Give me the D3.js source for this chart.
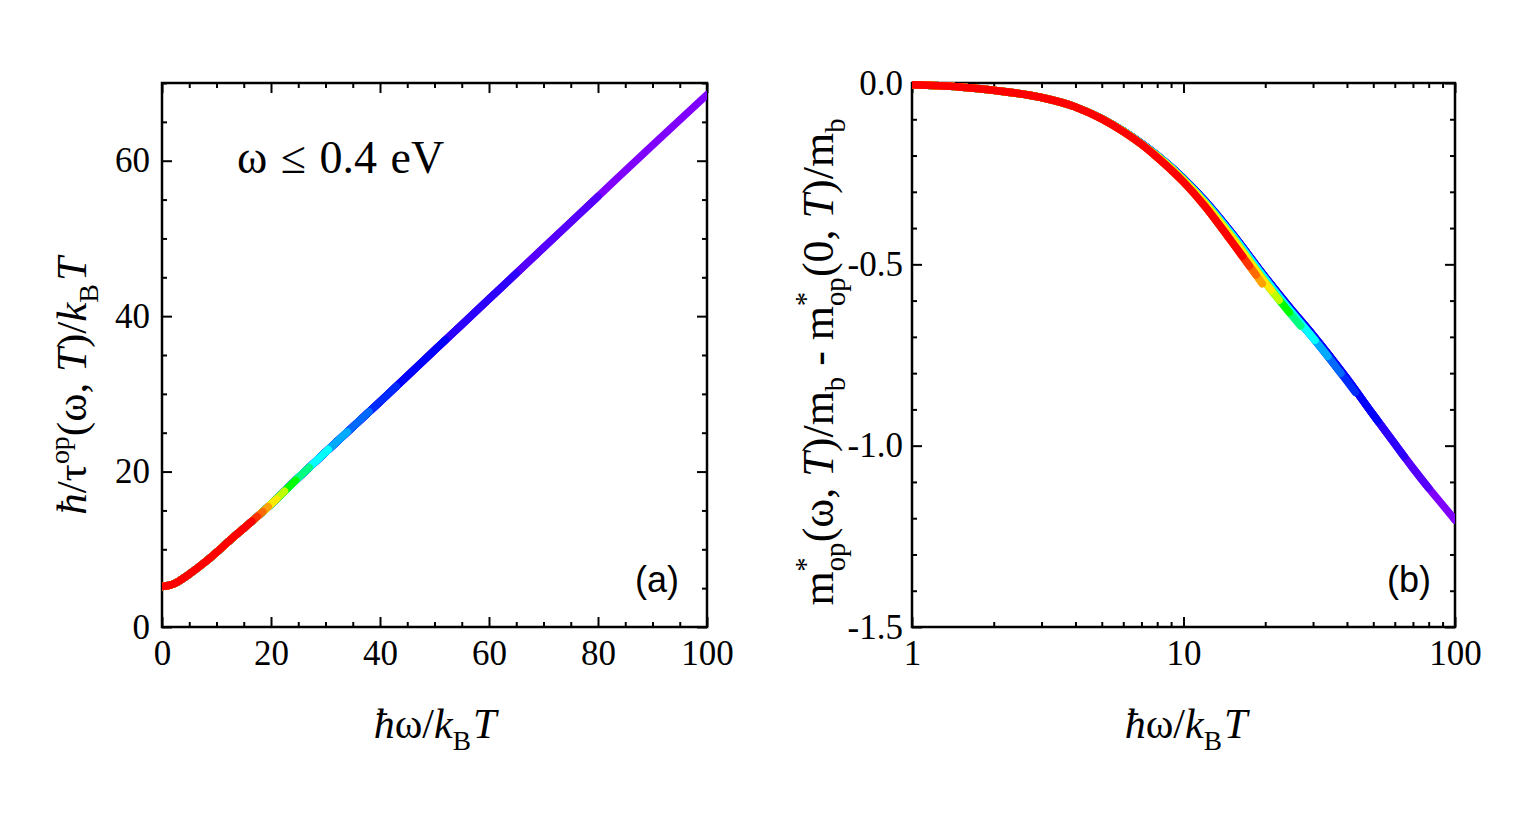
<!doctype html>
<html>
<head>
<meta charset="utf-8">
<title>scattering rate and effective mass</title>
<style>
	body{ margin: 0; background: #fff; }
	text{ font-family: "Liberation Serif", "Times New Roman", serif; fill: #000; }
	.tick text{ font-size: 35px; }
	.tick line{ stroke: #000; stroke-width: 2px; }
	.tag{ font-family: "Liberation Sans", Arial, sans-serif; font-size: 36px; }
</style>
</head>
<body>
<svg id="fig" width="1522" height="817"></svg>
<script src="https://cdn.jsdelivr.net/npm/d3@7"></script>
<script>
// one curve per temperature; each ends at omega = 0.4 eV, i.e. at its own x max
var seriesXmax = [100, 80, 65, 52, 43, 38, 34, 30.5, 27, 24.5, 22.5, 21, 19.5, 18.5, 17.5, 16.5];
var seriesHue  = [270, 260, 250, 240, 230, 215, 200, 180, 150, 120, 75, 55, 38, 25, 12, 0];
// which of the (b) curves below each temperature follows
var seriesGroup = ["cold","cold","cold","cold","blue","blue","blue","blue",
                   "green","green","green","green","hot","hot","hot","hot"];

// panel (a): hbar/tau / kT
var tauX = [0, 2, 5, 8, 10, 13, 16, 20, 25, 30, 40, 50, 60, 70, 80, 90, 100];
var tauY = [5.2, 5.5, 6.8, 8.4, 9.6, 11.5, 13.3, 15.8, 19.2, 22.5, 29.0, 35.6, 42.2, 48.8, 55.4, 62.0, 68.5];

// panel (b): mass difference, the colder curves sit a hair higher
var massX     = [1, 1.5, 2, 3, 4, 5, 6, 7, 8, 10, 12, 15, 20, 25, 30, 40, 50, 60, 70, 80, 90, 100];
var massCold  = [-0.005, -0.011, -0.02, -0.04, -0.066, -0.098, -0.132, -0.166, -0.199, -0.263, -0.325, -0.412,
                 -0.535, -0.625, -0.695, -0.815, -0.915, -0.995, -1.062, -1.117, -1.163, -1.205];
var massBlue  = [-0.005, -0.011, -0.02, -0.04, -0.066, -0.098, -0.132, -0.167, -0.2, -0.265, -0.328, -0.416,
                 -0.54, -0.632, -0.703, -0.822, -0.92];
var massGreen = [-0.005, -0.011, -0.02, -0.04, -0.066, -0.098, -0.133, -0.168, -0.202, -0.268, -0.332, -0.423,
                 -0.55, -0.64, -0.71];
var massHot   = [-0.005, -0.011, -0.02, -0.04, -0.066, -0.099, -0.134, -0.169, -0.205, -0.273, -0.34, -0.436,
                 -0.565];
var massByGroup = {cold: massCold, blue: massBlue, green: massGreen, hot: massHot};

var xTicksA = [0, 20, 40, 60, 80, 100];
var yTicksA = [0, 20, 40, 60];
var xTicksB = [1, 10, 100];
var yTicksB = [0, -0.5, -1.0, -1.5];

var svg = d3.select("#fig");

var boxA = {left: 162, right: 707, top: 83, bottom: 627};
var boxB = {left: 912, right: 1455, top: 83, bottom: 627};

var xa = d3.scaleLinear().domain([0, 100]).range([boxA.left, boxA.right]);
var ya = d3.scaleLinear().domain([0, 70]).range([boxA.bottom, boxA.top]);
var xb = d3.scaleLog().domain([1, 100]).range([boxB.left, boxB.right]);
var yb = d3.scaleLinear().domain([-1.5, 0]).range([boxB.bottom, boxB.top]);

function minorLinear(lo, hi, step, skip){
	var out = [];
	for(var v = lo; v <= hi + 1e-9; v += step){
		var r = Math.round(v * 1000) / 1000;
		if(Math.abs(r / skip - Math.round(r / skip)) > 1e-6) out.push(r);
	}
	return out;
}

function drawAxes(box, x, y, xMajor, xMinor, yMajor, yMinor, xFmt, yFmt, yPad){
	var g = svg.append("g");
	var bottom = g.append("g").attr("transform", "translate(0," + box.bottom + ")");
	bottom.call(d3.axisBottom(x).tickValues(xMajor).tickSize(-10).tickPadding(13).tickFormat(xFmt));
	bottom.append("g").call(d3.axisBottom(x).tickValues(xMinor).tickSize(-5).tickFormat(""));
	var top = g.append("g").attr("transform", "translate(0," + box.top + ")");
	top.call(d3.axisTop(x).tickValues(xMajor).tickSize(-10).tickFormat(""));
	top.append("g").call(d3.axisTop(x).tickValues(xMinor).tickSize(-5).tickFormat(""));
	var left = g.append("g").attr("transform", "translate(" + box.left + ",0)");
	left.call(d3.axisLeft(y).tickValues(yMajor).tickSize(-10).tickPadding(yPad).tickFormat(yFmt));
	left.append("g").call(d3.axisLeft(y).tickValues(yMinor).tickSize(-5).tickFormat(""));
	var right = g.append("g").attr("transform", "translate(" + box.right + ",0)");
	right.call(d3.axisRight(y).tickValues(yMajor).tickSize(-10).tickFormat(""));
	right.append("g").call(d3.axisRight(y).tickValues(yMinor).tickSize(-5).tickFormat(""));
	g.selectAll(".domain").remove();
	g.selectAll(".tick text").attr("fill", "#000");
	g.append("rect")
		.attr("x", box.left).attr("y", box.top)
		.attr("width", box.right - box.left).attr("height", box.bottom - box.top)
		.attr("fill", "none").attr("stroke", "#000").attr("stroke-width", 2.5);
}

drawAxes(boxA, xa, ya, xTicksA, minorLinear(0, 100, 5, 20), yTicksA, minorLinear(0, 70, 5, 20),
	d3.format("d"), d3.format("d"), 12);

var xMinorB = [2, 3, 4, 5, 6, 7, 8, 9, 20, 30, 40, 50, 60, 70, 80, 90];
drawAxes(boxB, xb, yb, xTicksB, xMinorB, yTicksB, minorLinear(-1.5, 0, 0.1, 0.5),
	d3.format("d"), function(d){ return d.toFixed(1); }, 9);

// clip the curves only left/right so they may run over the frame like the original
function addClip(id, box){
	svg.append("clipPath").attr("id", id).append("rect")
		.attr("x", box.left).attr("y", box.top - 40)
		.attr("width", box.right - box.left).attr("height", box.bottom - box.top + 80);
}
addClip("clipA", boxA);
addClip("clipB", boxB);

function drawSeries(clipId, x, y, dataFor){
	var g = svg.append("g").attr("clip-path", "url(#" + clipId + ")");
	var line = d3.line().x(function(d){ return x(d[0]); }).y(function(d){ return y(d[1]); })
		.curve(d3.curveMonotoneX);
	seriesXmax.forEach(function(xm, i){
		var path = g.append("path")
			.datum(dataFor(i))
			.attr("d", line)
			.attr("fill", "none")
			.attr("stroke", d3.hsl(seriesHue[i], 1, 0.5).formatHex())
			.attr("stroke-width", 7.5)
			.attr("stroke-linecap", "round")
			.attr("stroke-linejoin", "round");
		// stop the stroke where this temperature reaches 0.4 eV
		var node = path.node(), total = node.getTotalLength(), target = x(xm);
		if(node.getPointAtLength(total).x > target + 0.5){
			var lo = 0, hi = total;
			for(var k = 0; k < 40; k++){
				var mid = (lo + hi) / 2;
				if(node.getPointAtLength(mid).x < target) lo = mid; else hi = mid;
			}
			path.attr("stroke-dasharray", lo + "," + (total + 50));
		}
	});
}

drawSeries("clipA", xa, ya, function(){ return d3.zip(tauX, tauY); });
drawSeries("clipB", xb, yb, function(i){
	var m = massByGroup[seriesGroup[i]];
	return d3.zip(massX.slice(0, m.length), m);
});

// text with italics, sub- and superscripts
function rich(sel, parts, size){
	var shift = 0;
	parts.forEach(function(p){
		var t = sel.append("tspan").text(p[0]);
		var want = p[1] === "sub" ? size * 0.28 : (p[1] === "sup" ? -size * 0.4 : 0);
		if(want !== shift){ t.attr("dy", want - shift); shift = want; }
		if(p[1] === "i") t.style("font-style", "italic");
		if(p[1] === "sub" || p[1] === "sup") t.style("font-size", (size * 0.65) + "px");
		if(p[2]) t.attr("dx", p[2]);
	});
}

var labA = svg.append("text")
	.attr("transform", "translate(86,386) rotate(-90)")
	.attr("text-anchor", "middle").style("font-size", "43px");
rich(labA, [["ħ", "i"], ["/τ", ""], ["op", "sup"], ["(ω,  ", ""], ["T", "i"], [")/", ""], ["k", "i"],
	["B", "sub"], ["T", "i", 3]], 43);

var labB = svg.append("text")
	.attr("transform", "translate(833,362) rotate(-90)")
	.attr("text-anchor", "middle").style("font-size", "44px");
rich(labB, [["m", ""], ["op", "sub"], ["*", "sup", -29], ["(ω,  ", "", 15], ["T", "i"], [")/m", ""], ["b", "sub"],
	[" - m", ""], ["op", "sub"], ["*", "sup", -29], ["(0,  ", "", 15], ["T", "i"], [")/m", ""], ["b", "sub"]], 44);

[[xa, 435], [xb, 1186]].forEach(function(s){
	var t = svg.append("text").attr("x", s[1]).attr("y", 738)
		.attr("text-anchor", "middle").style("font-size", "42px");
	rich(t, [["ħ", "i"], ["ω/", ""], ["k", "i"], ["B", "sub"], ["T", "i", 2]], 42);
});

svg.append("text").attr("x", 237).attr("y", 173).style("font-size", "46px").style("word-spacing", "2px")
	.text("ω ≤ 0.4 eV");

svg.append("text").attr("class", "tag").attr("x", 679).attr("y", 592).attr("text-anchor", "end").text("(a)");
svg.append("text").attr("class", "tag").attr("x", 1431).attr("y", 592).attr("text-anchor", "end").text("(b)");
</script>
</body>
</html>
